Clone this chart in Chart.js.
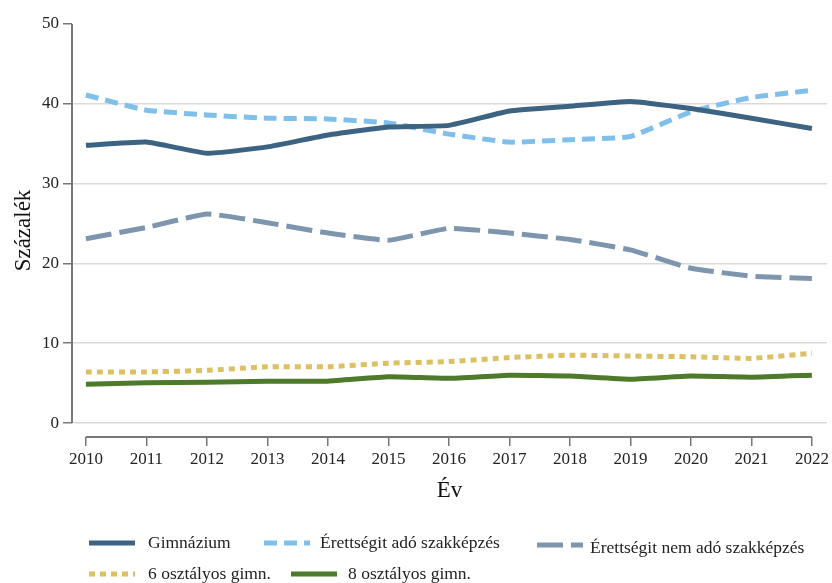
<!DOCTYPE html>
<html>
<head>
<meta charset="utf-8">
<script src="https://cdn.jsdelivr.net/npm/chart.js@4/dist/chart.umd.min.js"></script>
<style>
  html, body { margin: 0; padding: 0; background: #fff; }
  #wrap { width: 832px; height: 583px; position: relative; }
</style>
</head>
<body>
<div id="wrap"><canvas id="chart" width="832" height="583"></canvas></div>
<script>
const years = [2010, 2011, 2012, 2013, 2014, 2015, 2016, 2017, 2018, 2019, 2020, 2021, 2022];
const yTicks = [0, 10, 20, 30, 40, 50];

const gimnazium      = [34.8, 35.2, 33.8, 34.6, 36.1, 37.1, 37.3, 39.1, 39.7, 40.3, 39.4, 38.2, 36.9];
const erettsegiAdo   = [41.1, 39.2, 38.6, 38.2, 38.1, 37.6, 36.2, 35.2, 35.5, 35.9, 39.0, 40.8, 41.7];
const erettsegiNem   = [23.1, 24.5, 26.2, 25.1, 23.8, 22.9, 24.4, 23.8, 23.0, 21.7, 19.4, 18.4, 18.1];
const hatOsztalyos   = [6.4, 6.4, 6.6, 7.05, 7.05, 7.5, 7.7, 8.2, 8.5, 8.4, 8.3, 8.1, 8.75];
const nyolcOsztalyos = [4.85, 5.05, 5.1, 5.25, 5.25, 5.8, 5.6, 6.0, 5.9, 5.5, 5.9, 5.75, 6.0];

const serif = "'Liberation Serif', 'DejaVu Serif', serif";
const axisColor = "#777777";

function toPoints(values) {
  return values.map((v, i) => ({ x: years[i], y: v }));
}

// axis lines only span the data range, Stata style
const axisLines = {
  id: "axisLines",
  afterDraw(chart) {
    const { ctx, chartArea, scales } = chart;
    const x = scales.x;
    const y = scales.y;
    ctx.save();
    ctx.strokeStyle = axisColor;
    ctx.lineWidth = 2;
    ctx.beginPath();
    ctx.moveTo(chartArea.left, y.getPixelForValue(yTicks[yTicks.length - 1]));
    ctx.lineTo(chartArea.left, y.getPixelForValue(yTicks[0]));
    ctx.moveTo(x.getPixelForValue(years[0]), chartArea.bottom);
    ctx.lineTo(x.getPixelForValue(years[years.length - 1]), chartArea.bottom);
    ctx.stroke();
    ctx.restore();
  }
};

const legendLayout = [
  { x: 89, y: 543, textX: 148, dy: 0 },
  { x: 264, y: 543, textX: 320, dy: 0 },
  { x: 537, y: 545, textX: 590, dy: 3 },
  { x: 89, y: 574, textX: 148, dy: 0 },
  { x: 291, y: 574, textX: 348, dy: 0 }
];

const customLegend = {
  id: "customLegend",
  afterDraw(chart) {
    const { ctx } = chart;
    chart.data.datasets.forEach((ds, i) => {
      const pos = legendLayout[i];
      if (!pos) return;
      ctx.save();
      ctx.strokeStyle = ds.borderColor;
      ctx.lineWidth = ds.borderWidth;
      ctx.setLineDash(ds.borderDash || []);
      ctx.beginPath();
      ctx.moveTo(pos.x, pos.y);
      ctx.lineTo(pos.x + 46, pos.y);
      ctx.stroke();
      ctx.setLineDash([]);
      ctx.fillStyle = "#222";
      ctx.font = "17.5px " + serif;
      ctx.textBaseline = "middle";
      ctx.fillText(ds.label, pos.textX, pos.y + pos.dy);
      ctx.restore();
    });
  }
};

new Chart(document.getElementById("chart"), {
  type: "line",
  data: {
    datasets: [
      {
        label: "Gimnázium",
        data: toPoints(gimnazium),
        borderColor: "#3d6382",
        borderWidth: 5
      },
      {
        label: "Érettségit adó szakképzés",
        data: toPoints(erettsegiAdo),
        borderColor: "#80bfe9",
        borderWidth: 5,
        borderDash: [13, 7]
      },
      {
        label: "Érettségit nem adó szakképzés",
        data: toPoints(erettsegiNem),
        borderColor: "#7d96ae",
        borderWidth: 5,
        borderDash: [26, 8]
      },
      {
        label: "6 osztályos gimn.",
        data: toPoints(hatOsztalyos),
        borderColor: "#dcc063",
        borderWidth: 5,
        borderDash: [6, 5]
      },
      {
        label: "8 osztályos gimn.",
        data: toPoints(nyolcOsztalyos),
        borderColor: "#4e7a2b",
        borderWidth: 5
      }
    ]
  },
  options: {
    responsive: false,
    animation: false,
    layout: {
      padding: { top: 24, right: 4, left: 0, bottom: 78 }
    },
    elements: {
      point: { radius: 0 },
      line: { tension: 0.12, borderCapStyle: "butt", fill: false }
    },
    scales: {
      x: {
        type: "linear",
        min: 2009.77,
        max: 2022.25,
        afterBuildTicks(scale) {
          scale.ticks = years.map(v => ({ value: v }));
        },
        afterFit(scale) {
          scale.height = 68;
        },
        border: { display: false },
        grid: {
          drawOnChartArea: false,
          drawTicks: true,
          tickLength: 9,
          tickColor: axisColor,
          lineWidth: 1.5
        },
        ticks: {
          color: "#222",
          font: { family: serif, size: 17 },
          padding: 3,
          maxRotation: 0,
          autoSkip: false,
          callback: v => String(v)
        },
        title: {
          display: true,
          text: "Év",
          color: "#111",
          font: { family: serif, size: 23 },
          padding: 0
        }
      },
      y: {
        min: -1.75,
        max: 50,
        afterBuildTicks(scale) {
          scale.ticks = yTicks.map(v => ({ value: v }));
        },
        afterFit(scale) {
          scale.width = 72;
        },
        border: { display: false },
        grid: {
          color: ctx => (ctx.tick && ctx.tick.value === 50 ? "rgba(0,0,0,0)" : "#dadada"),
          lineWidth: 1.5,
          tickLength: 9,
          tickColor: axisColor
        },
        ticks: {
          color: "#222",
          font: { family: serif, size: 17 },
          padding: 4
        },
        title: {
          display: true,
          text: "Százalék",
          color: "#111",
          font: { family: serif, size: 23 },
          padding: 10
        }
      }
    },
    plugins: {
      legend: { display: false },
      tooltip: { enabled: false }
    }
  },
  plugins: [axisLines, customLegend]
});
</script>
</body>
</html>
